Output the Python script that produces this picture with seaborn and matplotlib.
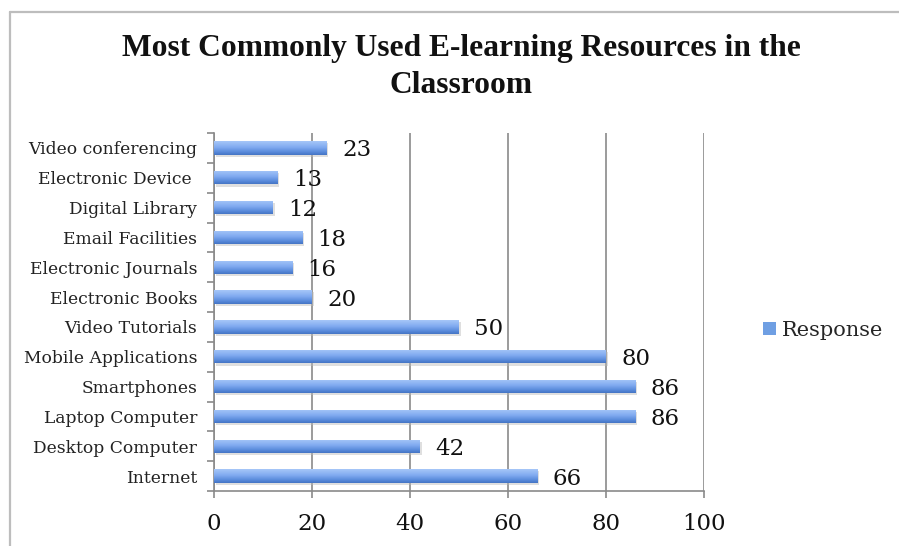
import numpy as np
import pandas as pd
import matplotlib
matplotlib.use("Agg")
import matplotlib.pyplot as plt
import seaborn as sns
from matplotlib.colors import LinearSegmentedColormap
from matplotlib.patches import Patch, Rectangle
from matplotlib.lines import Line2D
from matplotlib.ticker import FixedLocator

categories = ["Video conferencing", "Electronic Device ", "Digital Library",
              "Email Facilities", "Electronic Journals", "Electronic Books",
              "Video Tutorials", "Mobile Applications", "Smartphones",
              "Laptop Computer", "Desktop Computer", "Internet"]
responses = [23, 13, 12, 18, 16, 20, 50, 80, 86, 86, 42, 66]
series_name = "Response"
title = "Most Commonly Used E-learning Resources in the\nClassroom"
x_ticks = [0, 20, 40, 60, 80, 100]

df = pd.DataFrame({"Resource": categories, series_name: responses})

sns.set_style("white")
plt.rcParams["font.family"] = ["DejaVu Serif"]

fig = plt.figure(figsize=(8.99, 5.46), dpi=100)
ax = fig.add_axes([214 / 899, 1 - 491 / 546, 490 / 899, (491 - 133) / 546])

sns.barplot(data=df, y="Resource", x=series_name, orient="h", ax=ax,
            order=categories, width=0.45, color="#6a9be0", zorder=3,
            linewidth=0, errorbar=None)

grad = LinearSegmentedColormap.from_list(
    "bar", [(0.0, "#a6c7f8"), (0.45, "#80aaf0"), (0.8, "#5789da"), (1.0, "#4574c4")])
gimg = np.linspace(0, 1, 64).reshape(-1, 1)

for p in list(ax.patches):
    x0, y0 = p.get_x(), p.get_y()
    w, h = p.get_width(), p.get_height()
    sh = Rectangle((x0 + 0.35, y0 + 0.07), w, h, facecolor="#b8b8b8",
                   alpha=0.45, linewidth=0, zorder=2)
    ax.add_patch(sh)
    p.set_facecolor("none")
    im = ax.imshow(gimg, cmap=grad, extent=(x0, x0 + w, y0 + h, y0),
                   aspect="auto", origin="upper", zorder=3, interpolation="bilinear")
    im.set_clip_path(p)

bars = ax.containers[0]
texts = ax.bar_label(bars, labels=[str(v) for v in responses], padding=11,
                     fontsize=16.5, color="#111111")
for t in texts:
    t.set_va("center_baseline")

ax.set_xlim(0, 100)
ax.set_ylim(len(categories) - 0.5, -0.5)
ax.xaxis.set_major_locator(FixedLocator(x_ticks))
ax.set_xticklabels([str(t) for t in x_ticks])
ax.yaxis.set_minor_locator(FixedLocator(np.arange(-0.5, len(categories), 1.0)))

ax.grid(axis="x", color="#8a8a8a", linewidth=1.2, zorder=1)
ax.grid(axis="y", visible=False)
for s in ["top", "right"]:
    ax.spines[s].set_visible(False)
for s in ["left", "bottom"]:
    ax.spines[s].set_color("#8a8a8a")
    ax.spines[s].set_linewidth(1.2)

ax.tick_params(axis="x", which="major", direction="out", length=5, width=1.2,
               color="#8a8a8a", labelsize=16.5, pad=11, bottom=True,
               labelcolor="#111111")
ax.tick_params(axis="y", which="major", length=0, labelsize=12.3, pad=12,
               labelcolor="#222222")
ax.tick_params(axis="y", which="minor", direction="out", length=5, width=1.2,
               color="#8a8a8a", left=True)
ax.set_xlabel("")
ax.set_ylabel("")

fig.text(461 / 899, 1 - 67 / 546, title, ha="center", va="center",
         fontsize=22.7, fontweight="bold", linespacing=1.4, color="#111111",
         family=["Liberation Serif", "DejaVu Serif"])

handle = Patch(facecolor="#6f9fe3", edgecolor="none")
fig.legend([handle], [series_name], loc="center left",
           bbox_to_anchor=(763 / 899, 1 - 330 / 546), frameon=False,
           fontsize=15, handlelength=0.6, handleheight=0.6,
           handletextpad=0.3, borderpad=0, borderaxespad=0)

fig.add_artist(Line2D([10 / 899, 1.0], [1 - 12 / 546, 1 - 12 / 546],
                      transform=fig.transFigure, color="#bdbdbd", linewidth=1.6))
fig.add_artist(Line2D([10 / 899, 10 / 899], [0.0, 1 - 12 / 546],
                      transform=fig.transFigure, color="#bdbdbd", linewidth=1.6))

fig.savefig("out.png", dpi=100)
